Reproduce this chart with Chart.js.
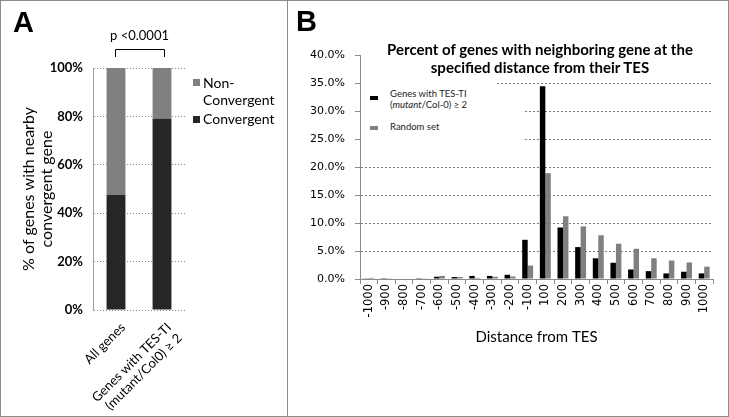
<!DOCTYPE html>
<html>
<head>
<meta charset="utf-8">
<script src="https://cdn.jsdelivr.net/npm/chart.js@4.4.0/dist/chart.umd.min.js"></script>
<style>
  body { margin: 0; background: #fff; }
  #page { position: relative; width: 729px; height: 417px; overflow: hidden; background: #fff; }
  .frame { position: absolute; border: 1px solid #8c8c8c; box-sizing: border-box; }
  canvas { position: absolute; }
  .txt { position: absolute; font-family: Lato, sans-serif; color: #000; white-space: nowrap; }
  .letter { position: absolute; font-family: 'Liberation Sans', Arial, sans-serif; font-weight: bold; font-size: 29px; }
  .mask { position: absolute; background: #fff; }
  .sw { position: absolute; }
</style>
</head>
<body>
<div id="page">
  <div class="frame" style="left:0;top:0;width:729px;height:417px;"></div>
  <div class="frame" style="left:287px;top:0;width:1px;height:417px;border-width:0 0 0 1px;"></div>

  <div id="boxA" style="position:absolute;left:1px;top:1px;width:286px;height:415px;">
    <canvas id="chartA"></canvas>
  </div>
  <div id="boxB" style="position:absolute;left:288px;top:1px;width:440px;height:415px;">
    <canvas id="chartB"></canvas>
  </div>

  <!-- panel letters -->
  <div class="letter" style="left:13px;top:6px;">A</div>
  <div class="letter" style="left:296px;top:5px;">B</div>

  <!-- panel A legend -->
  <div class="sw" style="left:193px;top:79px;width:7px;height:7px;background:#808080;"></div>
  <div class="txt" style="left:203px;top:74px;font-size:14px;line-height:17px;">Non-<br>Convergent</div>
  <div class="sw" style="left:193px;top:116px;width:7px;height:7px;background:#262626;"></div>
  <div class="txt" style="left:203px;top:110px;font-size:14px;line-height:17px;">Convergent</div>

  <!-- panel B title and legend (white boxes hide gridlines like the original) -->
  <div class="mask" style="left:361px;top:34px;width:354px;height:43px;"></div>
  <div class="mask" style="left:361px;top:77px;width:136px;height:20px;"></div>
  <div class="mask" style="left:361px;top:97px;width:164px;height:48px;"></div>
  <div class="txt" style="left:363px;top:40px;width:354px;text-align:center;font-weight:bold;font-size:15px;line-height:18px;">Percent of genes with neighboring gene at the<br>specified distance from their TES</div>
  <div class="sw" style="left:370px;top:96px;width:8px;height:4px;background:#000;"></div>
  <div class="txt" style="left:390px;top:88px;font-size:9.5px;line-height:11px;color:#222;">Genes with TES-TI<br>(<i>mutant</i>/Col-0) ≥ 2</div>
  <div class="sw" style="left:370px;top:126px;width:8px;height:4px;background:#808080;"></div>
  <div class="txt" style="left:390px;top:121px;font-size:9.5px;line-height:11px;color:#222;">Random set</div>
</div>

<script>
// Panel A data
const groupsA = ['All genes', ['Genes with TES-TI', '(mutant/Col0) \u2265 2']];
const convergent = [47.5, 79];
const nonConvergent = [52.5, 21];
const pValueText = 'p <0.0001';

// Panel B data
const distances = ['-1000', '-900', '-800', '-700', '-600', '-500', '-400', '-300', '-200', '-100',
                   '100', '200', '300', '400', '500', '600', '700', '800', '900', '1000'];
const tesTI = [0.05, 0.15, 0, 0.15, 0.4, 0.35, 0.55, 0.55, 0.75, 7.0,
               34.4, 9.2, 5.7, 3.7, 2.9, 1.7, 1.4, 1.0, 1.3, 1.0];
const randomSet = [0.2, 0.05, 0, 0.05, 0.55, 0.35, 0.2, 0.4, 0.45, 2.4,
                   18.9, 11.2, 9.4, 7.8, 6.3, 5.4, 3.7, 3.3, 2.95, 2.2];

const calibri = 'Lato, sans-serif';
const verdana = "'DejaVu Sans', sans-serif";

// bracket + p-value over the two bars of panel A
const bracketPlugin = {
    id: 'bracket',
    afterDraw(chart) {
        const ctx = chart.ctx;
        const x = chart.scales.x;
        const x1 = x.getPixelForValue(0) - 1;
        const x2 = x.getPixelForValue(1) + 2;
        const top = 48, bottom = 56;
        ctx.save();
        ctx.strokeStyle = '#000';
        ctx.lineWidth = 1;
        ctx.beginPath();
        ctx.moveTo(x1 + 0.5, bottom);
        ctx.lineTo(x1 + 0.5, top + 0.5);
        ctx.lineTo(x2 + 0.5, top + 0.5);
        ctx.lineTo(x2 + 0.5, bottom);
        ctx.stroke();
        ctx.fillStyle = '#000';
        ctx.font = '13px ' + calibri;
        ctx.textAlign = 'center';
        ctx.textBaseline = 'alphabetic';
        ctx.fillText(pValueText, (x1 + x2) / 2, 39);
        ctx.restore();
    }
};

new Chart(document.getElementById('chartA'), {
    type: 'bar',
    data: {
        labels: groupsA,
        datasets: [
            { label: 'Convergent', data: convergent, backgroundColor: '#262626',
              categoryPercentage: 0.41, barPercentage: 1 },
            { label: 'Non-Convergent', data: nonConvergent, backgroundColor: '#808080',
              categoryPercentage: 0.41, barPercentage: 1 }
        ]
    },
    options: {
        responsive: true,
        maintainAspectRatio: false,
        animation: false,
        layout: { padding: { top: 67, right: 102, left: 0, bottom: 0 } },
        plugins: { legend: { display: false }, tooltip: { enabled: false } },
        scales: {
            x: {
                stacked: true,
                afterFit: s => { s.height = 106; },
                grid: { display: false },
                border: { display: false },
                ticks: {
                    color: '#000',
                    font: { family: calibri, size: 13, lineHeight: 1.15 },
                    maxRotation: 45, minRotation: 45,
                    padding: 2,
                    labelOffset: 7,
                    autoSkip: false
                }
            },
            y: {
                stacked: true,
                min: 0, max: 100,
                afterFit: s => { s.width = 92; },
                grid: { color: '#8a8a8a', drawTicks: false },
                border: { display: true, color: '#a0a0a0', dash: [1, 2] },
                ticks: {
                    stepSize: 20,
                    color: '#000',
                    padding: 10,
                    font: { family: calibri, size: 13, weight: 'bold' },
                    callback: v => v + '%'
                },
                title: {
                    display: true,
                    text: ['% of genes with nearby', 'convergent gene'],
                    color: '#000',
                    font: { family: calibri, size: 16, lineHeight: 1.1 },
                    padding: { top: 19, bottom: 0 }
                }
            }
        }
    },
    plugins: [bracketPlugin]
});

new Chart(document.getElementById('chartB'), {
    type: 'bar',
    data: {
        labels: distances,
        datasets: [
            { label: 'Genes with TES-TI (mutant/Col-0) \u2265 2', data: tesTI, backgroundColor: '#000000',
              categoryPercentage: 0.62, barPercentage: 1 },
            { label: 'Random set', data: randomSet, backgroundColor: '#808080',
              categoryPercentage: 0.62, barPercentage: 1 }
        ]
    },
    options: {
        responsive: true,
        maintainAspectRatio: false,
        animation: false,
        layout: { padding: { top: 54, right: 15, left: 0, bottom: 70 } },
        plugins: { legend: { display: false }, tooltip: { enabled: false } },
        scales: {
            x: {
                afterFit: s => { s.height = 67; },
                grid: { drawOnChartArea: false, drawTicks: true, tickLength: 5, color: '#8a8a8a' },
                border: { display: true, color: '#8a8a8a' },
                ticks: {
                    color: '#000',
                    font: { family: verdana, size: 11.5 },
                    maxRotation: 90, minRotation: 90,
                    padding: 0,
                    autoSkip: false
                },
                title: {
                    display: true,
                    text: 'Distance from TES',
                    color: '#000',
                    font: { family: calibri, size: 15 },
                    padding: { top: 0, bottom: 0 }
                }
            },
            y: {
                min: 0, max: 40,
                afterFit: s => { s.width = 72; },
                grid: { color: '#7a7a7a', drawTicks: true, tickLength: 5,
                        tickColor: '#8a8a8a', tickBorderDash: [] },
                border: { display: true, color: '#8a8a8a', dash: [2, 2] },
                ticks: {
                    stepSize: 5,
                    color: '#000',
                    padding: 10,
                    font: { family: verdana, size: 11 },
                    callback: v => v.toFixed(1) + '%'
                }
            }
        }
    }
});
</script>
</body>
</html>
